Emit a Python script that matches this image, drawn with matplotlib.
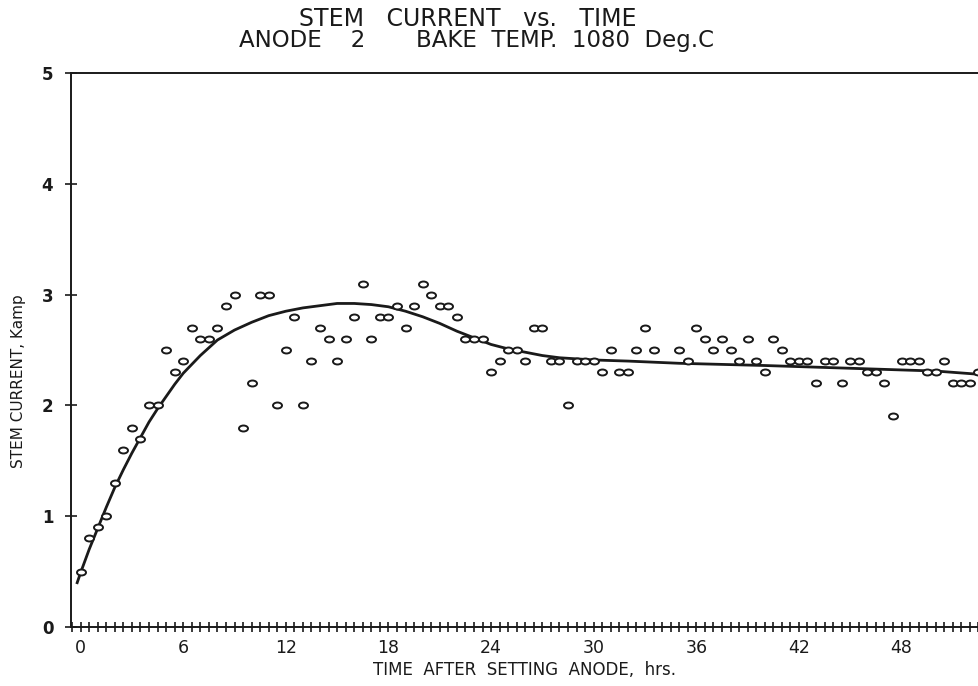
import numpy as np
import matplotlib
matplotlib.use("Agg")
import matplotlib.pyplot as plt
from matplotlib.path import Path
from matplotlib.transforms import Affine2D
from matplotlib.ticker import MultipleLocator

# measured stem current (Kamp) every half hour
hours = np.arange(0, 53, 0.5)
current = [
    0.5, 0.8, 0.9, 1.0, 1.3, 1.6, 1.8, 1.7, 2.0, 2.0,      # 0 - 4.5
    2.5, 2.3, 2.4, 2.7, 2.6, 2.6, 2.7, 2.9, 3.0, 1.8,      # 5 - 9.5
    2.2, 3.0, 3.0, 2.0, 2.5, 2.8, 2.0, 2.4, 2.7, 2.6,      # 10 - 14.5
    2.4, 2.6, 2.8, 3.1, 2.6, 2.8, 2.8, 2.9, 2.7, 2.9,      # 15 - 19.5
    3.1, 3.0, 2.9, 2.9, 2.8, 2.6, 2.6, 2.6, 2.3, 2.4,      # 20 - 24.5
    2.5, 2.5, 2.4, 2.7, 2.7, 2.4, 2.4, 2.0, 2.4, 2.4,      # 25 - 29.5
    2.4, 2.3, 2.5, 2.3, 2.3, 2.5, 2.7, 2.5, None, None,    # 30 - 34.5
    2.5, 2.4, 2.7, 2.6, 2.5, 2.6, 2.5, 2.4, 2.6, 2.4,      # 35 - 39.5
    2.3, 2.6, 2.5, 2.4, 2.4, 2.4, 2.2, 2.4, 2.4, 2.2,      # 40 - 44.5
    2.4, 2.4, 2.3, 2.3, 2.2, 1.9, 2.4, 2.4, 2.4, 2.3,      # 45 - 49.5
    2.3, 2.4, 2.2, 2.2, 2.2, 2.3,                          # 50 - 52.5
]
current = np.array([np.nan if c is None else c for c in current], float)

# fitted curve
fit_t = [-0.2, 0, 0.5, 1.0, 1.5, 2.0, 2.5, 3.0, 3.5, 4.0, 4.5, 5.0, 5.5, 6.0,
         7.0, 8.0, 9.0, 10.0, 11.0, 12.0, 13.0, 14.0, 15.0, 16.0, 17.0, 18.0,
         19.0, 20.0, 21.0, 22.0, 23.0, 24.0, 25.0, 26.0, 27.0, 28.0, 30.0,
         32.0, 35.0, 40.0, 44.0, 48.0, 50.0, 52.6]
fit_v = [0.40, 0.49, 0.70, 0.89, 1.08, 1.26, 1.42, 1.57, 1.71, 1.85, 1.97, 2.08,
         2.19, 2.29, 2.45, 2.59, 2.68, 2.75, 2.81, 2.85, 2.88, 2.90, 2.92, 2.92,
         2.91, 2.89, 2.85, 2.80, 2.74, 2.67, 2.61, 2.55, 2.51, 2.48, 2.45, 2.43,
         2.41, 2.40, 2.38, 2.36, 2.34, 2.32, 2.31, 2.28]

xticks = [0, 6, 12, 18, 24, 30, 36, 42, 48]
yticks = [0, 1, 2, 3, 4, 5]

oval = Path.unit_circle().transformed(Affine2D().scale(1.0, 0.66))

fig = plt.figure(figsize=(9.79, 6.86), dpi=100)
ax = fig.add_axes([0.0722, 0.086, 0.9278, 0.8076])

ax.plot(fit_t, fit_v, color="#1a1a1a", lw=2.0, zorder=2)
ax.plot(hours, current, ls="none", marker=oval, ms=6.5, mfc="white",
        mec="#1a1a1a", mew=1.4, zorder=3)

ax.set_xlim(-0.58, 52.53)
ax.set_ylim(0, 5)
ax.spines["right"].set_visible(False)
for s in ["left", "bottom", "top"]:
    ax.spines[s].set_linewidth(1.4)
    ax.spines[s].set_color("#1a1a1a")

ax.set_xticks(xticks)
ax.xaxis.set_minor_locator(MultipleLocator(0.5))
ax.tick_params(axis="x", which="both", direction="inout", length=7, width=1.2,
               labelsize=12.5, pad=5, colors="#1a1a1a")
ax.set_yticks(yticks)
ax.tick_params(axis="y", direction="inout", length=9, width=1.2,
               labelsize=12, pad=8, colors="#1a1a1a")
for lab in ax.get_yticklabels():
    lab.set_fontweight("bold")

ax.set_xlabel("TIME  AFTER  SETTING  ANODE,  hrs.", fontsize=12,
              color="#1a1a1a", labelpad=3)
fig.text(0.019, 0.445, "STEM CURRENT, Kamp", rotation=90, ha="center",
         va="center", fontsize=11, color="#1a1a1a",
         family=["Liberation Sans Narrow", "DejaVu Sans"])

fig.text(0.478, 0.973, "STEM   CURRENT   vs.   TIME", ha="center", va="center",
         fontsize=17, color="#1a1a1a")
fig.text(0.487, 0.941, "ANODE    2       BAKE  TEMP.  1080  Deg.C", ha="center",
         va="center", fontsize=16.5, color="#1a1a1a")

fig.savefig("out.png", dpi=100)
